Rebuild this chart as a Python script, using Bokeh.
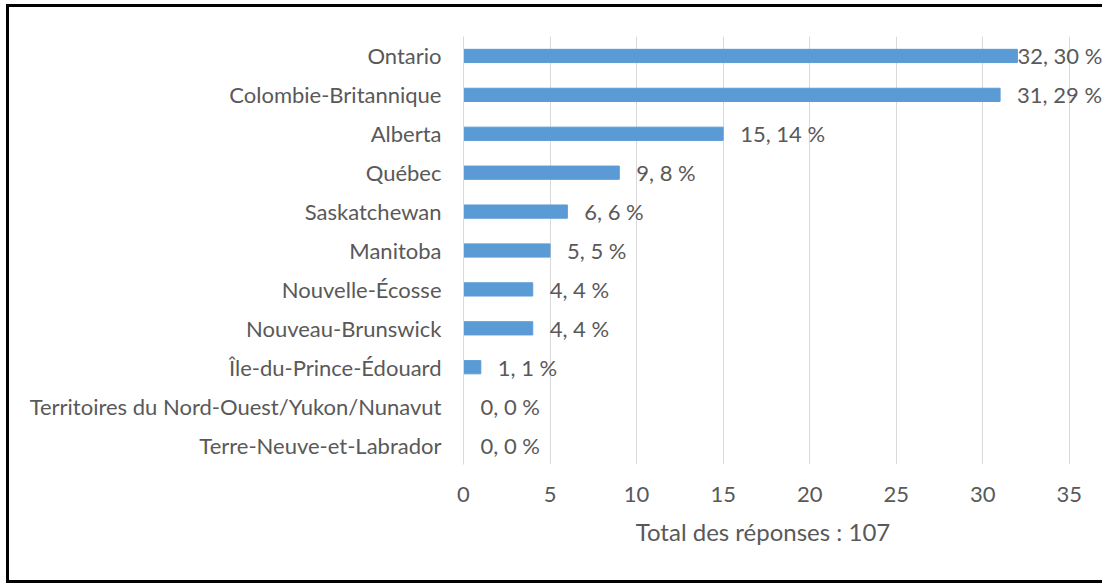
from bokeh.plotting import figure
from bokeh.models import ColumnDataSource, Range1d, FactorRange, FixedTicker, LabelSet
from bokeh.core.properties import value
from bokeh.embed import file_html
from bokeh.resources import INLINE

provinces = ["Ontario", "Colombie-Britannique", "Alberta", "Québec", "Saskatchewan",
             "Manitoba", "Nouvelle-Écosse", "Nouveau-Brunswick", "Île-du-Prince-Édouard",
             "Territoires du Nord-Ouest/Yukon/Nunavut", "Terre-Neuve-et-Labrador"]
counts = [32, 31, 15, 9, 6, 5, 4, 4, 1, 0, 0]
percents = [30, 29, 14, 8, 6, 5, 4, 4, 1, 0, 0]
x_ticks = [0, 5, 10, 15, 20, 25, 30, 35]
axis_title = "Total des réponses : 107"

FONT = "Lato"
GRAY = "#595959"
FS = "22px"

W, H = 1096, 579
BORDER = 3
ML, MR, MT, MB = 454, 0, 29, 122
frame_w = W - BORDER - ML - MR
x_end = x_ticks[-1] * frame_w / 603.0  # last tick sits ~603 px right of the frame's left edge

labels = [f"{c}, {p} %" for c, p in zip(counts, percents)]
offsets = [0 if c >= 32 else 17 for c in counts]
src = ColumnDataSource(dict(cat=provinces, val=counts, lab=labels, off=offsets))

p = figure(width=W, height=H, output_backend="svg", toolbar_location=None,
           y_range=FactorRange(*list(reversed(provinces))),
           x_range=Range1d(0, x_end),
           min_border_left=ML, min_border_right=MR, min_border_top=MT, min_border_bottom=MB)
p.styles = {"border-left": f"{BORDER}px solid black",
            "border-top": f"{BORDER}px solid black",
            "border-bottom": f"{BORDER}px solid black",
            "margin-left": "6px", "margin-top": "4px"}
p.outline_line_color = None

p.hbar(y="cat", right="val", left=0, height=0.34, source=src, color="#5b9bd5")
p.add_layout(LabelSet(x="val", y="cat", text="lab", x_offset="off", source=src,
                      text_baseline="middle", text_align="left",
                      text_font=value(FONT), text_font_size=value(FS), text_color=GRAY))

p.xaxis.ticker = FixedTicker(ticks=x_ticks)
p.xaxis.axis_line_color = None
p.xaxis.major_tick_line_color = None
p.xaxis.minor_tick_line_color = None
p.xaxis.major_label_text_font = FONT
p.xaxis.major_label_text_font_size = FS
p.xaxis.major_label_text_color = GRAY
p.xaxis.major_label_standoff = 16
# trailing no-break spaces centre the title under the 0-35 span rather than the wider frame
p.xaxis.axis_label = axis_title + "\u00a0" * 7
p.xaxis.axis_label_text_font = FONT
p.xaxis.axis_label_text_font_size = "24px"
p.xaxis.axis_label_text_font_style = "normal"
p.xaxis.axis_label_text_color = GRAY
p.xaxis.axis_label_standoff = 12

p.yaxis.axis_line_color = "#d9d9d9"
p.yaxis.major_tick_line_color = None
p.yaxis.minor_tick_line_color = None
p.yaxis.major_label_text_font = FONT
p.yaxis.major_label_text_font_size = FS
p.yaxis.major_label_text_color = GRAY
p.yaxis.major_label_standoff = 16

p.xgrid.grid_line_color = "#d9d9d9"
p.ygrid.grid_line_color = None

open("out.html", "w").write(file_html(p, INLINE))
